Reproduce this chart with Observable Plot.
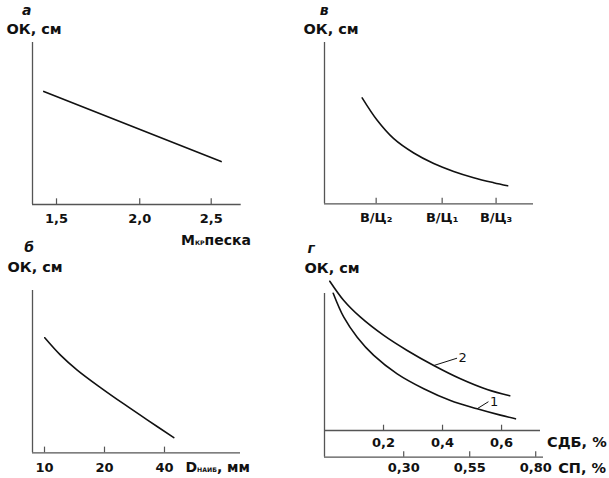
<!DOCTYPE html>
<html><head><meta charset="utf-8">
<script src="https://cdn.jsdelivr.net/npm/d3@7"></script>
<script src="https://cdn.jsdelivr.net/npm/@observablehq/plot@0.6"></script>
<style>
html,body{margin:0;padding:0;background:#fff;}
#wrap{position:relative;width:609px;height:478px;overflow:hidden;font-family:"DejaVu Sans",sans-serif;}
#wrap svg{position:absolute;overflow:visible;}
</style></head><body><div id="wrap"></div>
<script>
// ---------- data ----------
const panelLetters = ["а", "б", "в", "г"];
const yLabel = "ОК, см";

// а: OK vs fineness modulus of sand
const mkrTicks = [1.5, 2.0, 2.5];
const mkrX = [1.431, 2.575];
const mkrOK = [6.98, 2.65];

// б: OK vs max aggregate size
const dTicks = [10, 20, 40];
const dX = [10.03, 12.03, 14.59, 19.10, 25.00, 32.76, 44.55];
const dOK = [7.09, 6.02, 5.10, 4.02, 3.01, 2.03, 0.94];

// в: OK vs W/C
const wcTicks = [0.4, 0.5, 0.6];
const wcLabels = ["В/Ц₂", "В/Ц₁", "В/Ц₃"];
const wcX = [0.3815, 0.4014, 0.4245, 0.4542, 0.4859, 0.5199, 0.5562, 0.5951, 0.6239];
const wcOK = [6.57, 5.18, 4.04, 3.15, 2.50, 2.01, 1.62, 1.31, 1.12];

// г: OK vs admixture dosage
const sdbTicks = [0.2, 0.4, 0.6];
const spTicks = [0.30, 0.55, 0.80];
const curve1X = [0.0295, 0.0654, 0.1108, 0.167, 0.2463, 0.3364, 0.4268, 0.5173, 0.5962, 0.647];
const curve1OK = [8.58, 7.08, 5.83, 4.69, 3.54, 2.61, 1.875, 1.36, 0.96, 0.73];
const curve2X = [0.018, 0.0654, 0.122, 0.2009, 0.2802, 0.3703, 0.4607, 0.5512, 0.6277];
const curve2OK = [9.33, 8.125, 7.08, 5.94, 5.0, 4.06, 3.23, 2.56, 2.17];
const seriesNames = ["1", "2"];
const labelX = [0.5556, 0.4492];
const labelOK = [1.8, 4.52];
const leaderFrom = [7, 5];

// ---------- helpers ----------
const wrap = document.getElementById("wrap");
const AX = "#555", LN = "#111";
const FONT = "'DejaVu Sans', sans-serif";
const pts = (xs, ys) => xs.map((x, i) => ({x, y: ys[i]}));
const baseStyle = {background: "transparent", fontFamily: FONT, color: "#111"};
const CURVE = "catmull-rom";

function place(svg, left, top) {
  svg.style.left = left + "px";
  svg.style.top = top + "px";
  svg.querySelectorAll("text").forEach(el => {
    const isSeries = el.closest("g.serlab") || el.classList.contains("serlab");
    el.style.fontFamily = FONT;
    el.style.fill = "#111";
    if (isSeries) {
      el.style.fontSize = "13px";
      el.style.fontWeight = "normal";
    } else {
      el.style.fontSize = "13px";
      el.style.fontWeight = "bold";
    }
  });
  wrap.append(svg);
}

function axisMarks(xmin, ticks, tickLen, fmt, pad) {
  return [
    Plot.ruleY([0], {stroke: AX, strokeWidth: 1.3}),
    Plot.ruleX([xmin], {stroke: AX, strokeWidth: 1.3}),
    Plot.ruleX(ticks, {x: d => d, y1: 0, y2: tickLen, stroke: AX, strokeWidth: 1.2}),
    Plot.axisX({ticks, tickSize: 0, tickPadding: pad, tickFormat: fmt, label: null})
  ];
}

// а
const aDom = [1.3715, 2.730];
place(Plot.plot({
  width: 304, height: 239, marginLeft: 32, marginRight: 63.3, marginTop: 42, marginBottom: 35,
  x: {type: "pow", exponent: 0.4, domain: aDom, axis: null},
  y: {domain: [0, 10], axis: null},
  style: baseStyle,
  marks: [
    ...axisMarks(aDom[0], mkrTicks, 0.35, d => d.toFixed(1).replace(".", ","), 9.5),
    Plot.line(pts(mkrX, mkrOK), {x: "x", y: "y", stroke: LN, strokeWidth: 1.6})
  ]
}), 0, 0);

// в
const vDom = [0.3359, 0.6809];
place(Plot.plot({
  width: 305, height: 239, marginLeft: 20, marginRight: 76, marginTop: 42, marginBottom: 35.7,
  x: {type: "log", domain: vDom, axis: null},
  y: {domain: [0, 10], axis: null},
  style: baseStyle,
  marks: [
    ...axisMarks(vDom[0], wcTicks, 0.35, d => wcLabels[wcTicks.indexOf(d)], 8.7),
    Plot.line(pts(wcX, wcOK), {x: "x", y: "y", curve: CURVE, stroke: LN, strokeWidth: 1.6})
  ]
}), 304, 0);

// б
const bDom = [8.705, 96.25];
place(Plot.plot({
  width: 304, height: 239, marginLeft: 32, marginRight: 64, marginTop: 51, marginBottom: 25.7,
  x: {type: "log", domain: bDom, axis: null},
  y: {domain: [0, 10], axis: null},
  style: baseStyle,
  marks: [
    ...axisMarks(bDom[0], dTicks, 0.35, d => String(d), 9.7),
    Plot.line(pts(dX, dOK), {x: "x", y: "y", curve: CURVE, stroke: LN, strokeWidth: 1.6})
  ]
}), 0, 239);

// г — lower axis (СП) with the full-height y axis
const spDom = [0, 0.8295];
place(Plot.plot({
  width: 305, height: 239, marginLeft: 20, marginRight: 66, marginTop: 54, marginBottom: 21.3,
  x: {domain: spDom, axis: null},
  y: {domain: [0, 10], axis: null},
  style: baseStyle,
  marks: axisMarks(0, spTicks, 0.33, d => d.toFixed(2).replace(".", ","), 5.3)
}), 304, 239);

// г — upper axis (СДБ) and the curves
const sdbDom = [0, 0.732];
const leaders = seriesNames.map((n, i) => {
  const cx = i === 0 ? curve1X : curve2X, cy = i === 0 ? curve1OK : curve2OK;
  return {name: n, x1: cx[leaderFrom[i]], y1: cy[leaderFrom[i]], x2: labelX[i], y2: labelOK[i]};
});
place(Plot.plot({
  width: 305, height: 239, marginLeft: 20, marginRight: 69, marginTop: 31, marginBottom: 48,
  x: {domain: sdbDom, axis: null},
  y: {domain: [0, 10], axis: null},
  style: baseStyle,
  marks: [
    Plot.ruleY([0], {stroke: AX, strokeWidth: 1.3}),
    Plot.ruleX(sdbTicks, {x: d => d, y1: 0, y2: 0.33, stroke: AX, strokeWidth: 1.2}),
    Plot.axisX({ticks: sdbTicks, tickSize: 0, tickPadding: 7, tickFormat: d => d.toFixed(1).replace(".", ","), label: null}),
    Plot.line(pts(curve1X, curve1OK), {x: "x", y: "y", curve: CURVE, stroke: LN, strokeWidth: 1.6}),
    Plot.line(pts(curve2X, curve2OK), {x: "x", y: "y", curve: CURVE, stroke: LN, strokeWidth: 1.6}),
    Plot.link(leaders, {x1: "x1", y1: "y1", x2: "x2", y2: "y2", stroke: LN, strokeWidth: 1}),
    Plot.text(leaders, {x: "x2", y: "y2", text: "name", textAnchor: "start", dx: 1.5, className: "serlab"})
  ]
}), 304, 239);

// ---------- titles and axis names ----------
const ov = d3.create("svg").attr("width", 609).attr("height", 478)
  .style("left", "0px").style("top", "0px")
  .attr("font-family", FONT).attr("fill", "#111");
const letterPos = [[26.7, 15], [29.2, 251.7], [324.2, 15], [311.2, 253.3]];
const okPos = [[6.5, 34.3], [7.5, 271.7], [303.5, 34.3], [304.5, 272.7]];
panelLetters.forEach((t, i) => {
  ov.append("text").attr("x", letterPos[i][0]).attr("y", letterPos[i][1])
    .attr("text-anchor", "middle").attr("font-size", 14).attr("font-weight", "bold").attr("font-style", "italic").text(t);
  ov.append("text").attr("x", okPos[i][0]).attr("y", okPos[i][1])
    .attr("font-size", 14.5).attr("font-weight", "bold").text(yLabel);
});
function subLabel(x, y, main, sub, rest) {
  const t = ov.append("text").attr("x", x).attr("y", y).attr("text-anchor", "end")
    .attr("font-size", 14).attr("font-weight", "bold");
  t.append("tspan").text(main);
  t.append("tspan").attr("font-size", 6.2).text(sub);
  t.append("tspan").text(rest);
}
subLabel(251, 244.5, "М", "КР", "песка");
subLabel(250, 471.7, "D", "НАИБ", ", мм");
ov.append("text").attr("x", 606.7).attr("y", 447).attr("text-anchor", "end").attr("font-size", 14.5).attr("font-weight", "bold").text("СДБ, %");
ov.append("text").attr("x", 606).attr("y", 472.5).attr("text-anchor", "end").attr("font-size", 14.5).attr("font-weight", "bold").text("СП, %");
wrap.append(ov.node());
</script></body></html>
